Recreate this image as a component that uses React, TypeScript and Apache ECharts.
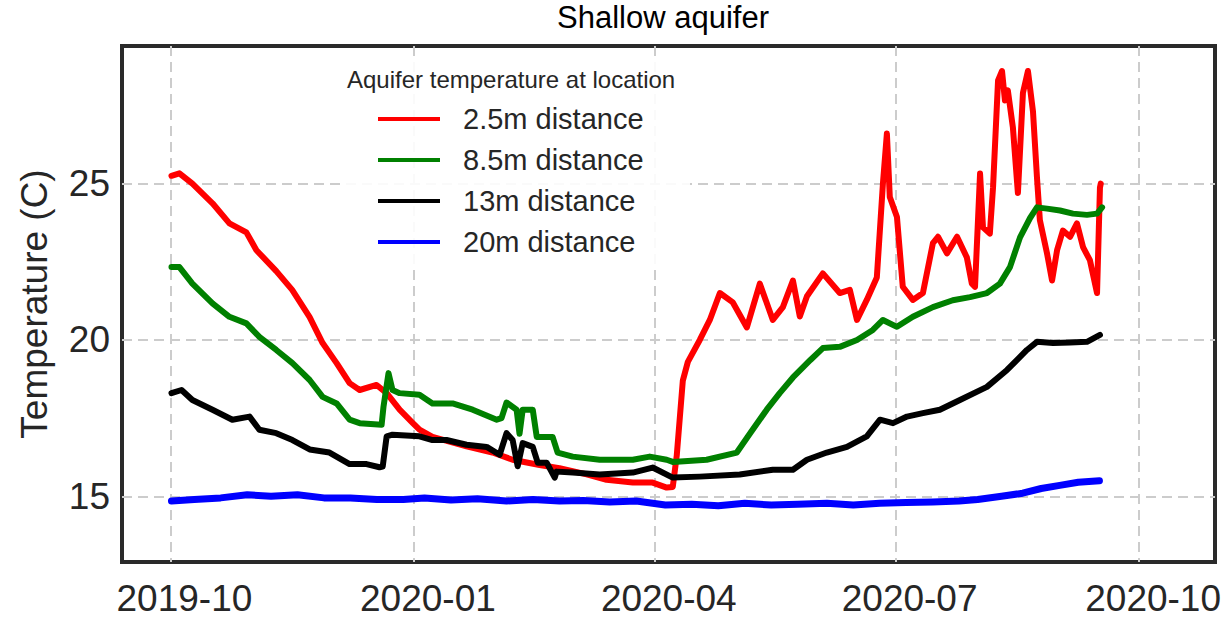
import React, { useEffect, useRef } from "react";
import * as echarts from "echarts";

// Day offsets are counted from START_DATE (2019-10-01)
const START_DATE = "2019-10-01T00:00:00";
const X_MIN_DATE = "2019-09-12T17:00:00";
const X_MAX_DATE = "2020-10-29T16:00:00";
const Y_MIN = 12.9;
const Y_MAX = 29.4;

const xTickDates = ["2019-10-01", "2020-01-01", "2020-04-01", "2020-07-01", "2020-10-01"];
const xTickLabels = ["2019-10", "2020-01", "2020-04", "2020-07", "2020-10"];
const yTicks = [15, 20, 25];

const seriesNames = ["2.5m distance", "8.5m distance", "13m distance", "20m distance"];
const seriesColors = ["#ff0000", "#008000", "#000000", "#0000ff"];

// [day offset, temperature °C]
const red25: [number, number][] = [
  [0.4, 25.25], [3.4, 25.33], [8.3, 25.0], [15.9, 24.37], [22.3, 23.73], [28.7, 23.44], [32.5, 22.87],
  [40, 22.2], [46, 21.6], [52.6, 20.73], [57.5, 19.9], [62.8, 19.26], [67.7, 18.62], [71.5, 18.4],
  [77.9, 18.56], [81.7, 18.3], [86.6, 17.77], [91.5, 17.35], [94.1, 17.13], [99, 16.9], [111.9, 16.6],
  [121.7, 16.4], [129.3, 16.17], [139.5, 16.0], [147, 15.9], [157.3, 15.7], [164.8, 15.53], [174.7, 15.44],
  [182.2, 15.44], [187.5, 15.28], [189.8, 15.3], [191.3, 16.3], [193.6, 18.7], [195.5, 19.3], [200, 20.0],
  [203.8, 20.64], [207.6, 21.5], [212.5, 21.2], [217.8, 20.4], [222.7, 21.8], [227.6, 20.64], [231.4, 21.05],
  [235.2, 21.9], [237.8, 20.75], [240.5, 21.4], [246.5, 22.13], [252.9, 21.5], [256.7, 21.6], [259.4, 20.64],
  [263.1, 21.28], [266.9, 22.0], [269.2, 25.0], [270.7, 26.6], [271.8, 24.57], [274.5, 23.93], [276.7, 21.7],
  [280.5, 21.28], [284.3, 21.5], [288.1, 23.1], [290, 23.3], [293.4, 22.77], [297.2, 23.3], [300.9, 22.64],
  [302.8, 21.8], [304, 21.7], [305.9, 25.32], [307, 23.6], [309.6, 23.4], [310.8, 24.87], [312.7, 28.3],
  [314.2, 28.6], [315.3, 27.66], [316.4, 27.98], [318.3, 26.8], [320.2, 24.7], [322.1, 27.9], [324, 28.6],
  [325.9, 27.3], [327.4, 25.2], [328.5, 23.83], [331.2, 22.77], [333.1, 21.9], [335, 22.87], [337.2, 23.5],
  [339.9, 23.3], [342.5, 23.73], [344.8, 22.97], [347.4, 22.55], [350.1, 21.5], [351.2, 24.87], [351.5, 25.0],
];

const green85: [number, number][] = [
  [0.4, 22.33], [3.4, 22.33], [8.3, 21.8], [15.9, 21.17], [22.3, 20.74], [28.7, 20.53], [33.6, 20.1],
  [40, 19.68], [46.1, 19.26], [52.6, 18.72], [57.5, 18.18], [62.8, 17.97], [67.7, 17.45], [71.5, 17.34],
  [79.8, 17.29], [80.5, 17.86], [82.4, 18.94], [83.9, 18.4], [86.6, 18.3], [94.1, 18.25], [99, 17.97],
  [106.6, 17.97], [114.2, 17.77], [123.3, 17.45], [125.1, 17.5], [127, 18.0], [130.8, 17.77], [131.9, 17.0],
  [133.1, 17.77], [136.9, 17.77], [138.4, 16.9], [144.4, 16.9], [146.3, 16.4], [152, 16.27], [162.2, 16.17],
  [174.7, 16.17], [181.1, 16.27], [187.5, 16.17], [189.8, 16.1], [202.6, 16.17], [214, 16.4], [218.9, 17.0],
  [225.3, 17.77], [230.2, 18.3], [235.2, 18.8], [241.8, 19.36], [246.5, 19.74], [252.9, 19.78], [259.4, 20.0],
  [265.4, 20.32], [269.2, 20.64], [274.5, 20.42], [280.5, 20.74], [288.1, 21.05], [295.6, 21.27], [302.1, 21.37],
  [308.5, 21.5], [313.4, 21.8], [317.2, 22.33], [321, 23.28], [324.8, 23.9], [327.4, 24.24], [331.2, 24.2],
  [336.1, 24.14], [341, 24.04], [346.3, 24.0], [350.1, 24.04], [352, 24.24],
];

const black13: [number, number][] = [
  [0.4, 18.3], [4.2, 18.4], [8.3, 18.08], [15.9, 17.77], [23.4, 17.45], [29.9, 17.55], [33.6, 17.13],
  [40, 17.02], [46.1, 16.8], [52.6, 16.5], [60.1, 16.4], [67.7, 16.03], [74.1, 16.03], [79, 15.93],
  [80.2, 15.95], [81.7, 16.92], [83.9, 16.97], [94.1, 16.92], [99, 16.8], [104.3, 16.8], [111.9, 16.65],
  [119.5, 16.58], [124.4, 16.33], [127, 17.02], [129.3, 16.8], [131.2, 15.96], [133.1, 16.7], [136.9, 16.58],
  [138.8, 16.07], [142.2, 16.07], [145.2, 15.6], [145.9, 15.79], [152, 15.76], [162.2, 15.7], [174.7, 15.76],
  [182.2, 15.92], [189.8, 15.6], [200, 15.63], [215.1, 15.7], [227.6, 15.85], [235.2, 15.85], [240.5, 16.17],
  [248, 16.4], [255.6, 16.58], [263.1, 16.92], [268.1, 17.45], [273, 17.34], [278.3, 17.55], [284.3, 17.66],
  [290.7, 17.77], [298.3, 18.08], [308.5, 18.5], [316.1, 19.04], [323.6, 19.68], [327.4, 19.94], [333.5, 19.9],
  [339.9, 19.92], [346.3, 19.94], [351.2, 20.16],
];

const blue20: [number, number][] = [
  [0.4, 14.85], [9, 14.9], [19, 14.95], [29, 15.05], [38, 15.0], [48, 15.05], [58, 14.95], [68, 14.95],
  [78, 14.9], [88, 14.9], [96, 14.95], [106, 14.88], [116, 14.92], [127, 14.85], [137, 14.9], [147, 14.85],
  [156, 14.87], [166, 14.82], [176, 14.85], [187, 14.72], [197, 14.75], [207, 14.7], [217, 14.78],
  [227, 14.72], [237, 14.75], [248, 14.78], [258, 14.72], [268, 14.78], [278, 14.8], [288, 14.82],
  [298, 14.85], [305, 14.9], [314, 15.0], [322, 15.1], [329, 15.25], [336, 15.35], [343, 15.45], [351, 15.5],
];

const allData = [red25, green85, black13, blue20];
const lineWidths = [6, 6, 6, 7];

const DAY_MS = 86400000;
const FONT = "'Liberation Sans', Arial, Helvetica, sans-serif";
const TEXT = "#262626";

export default function App() {
  const ref = useRef<HTMLDivElement>(null);
  useEffect(() => {
    document.body.style.margin = "0";
    const chart = echarts.init(ref.current!, null, { renderer: "svg" });
    const t0 = new Date(START_DATE).getTime();
    const tickTimes = xTickDates.map((d) => new Date(d + "T00:00:00").getTime());
    const option = {
      animation: false,
      textStyle: { fontFamily: FONT },
      title: [
        {
          text: "Shallow aquifer",
          left: 557,
          top: 2,
          padding: 0,
          textStyle: { fontFamily: FONT, fontSize: 31, fontWeight: "normal", color: "#000" },
        },
        {
          text: "Aquifer temperature at location",
          left: 347,
          top: 67,
          padding: 0,
          z: 10,
          textStyle: { fontFamily: FONT, fontSize: 24, fontWeight: "normal", color: TEXT },
        },
      ],
      graphic: [
        {
          type: "rect",
          shape: { x: 340, y: 56, width: 350, height: 211 },
          style: { fill: "rgba(255,255,255,0.9)" },
          z: 1,
          silent: true,
        },
      ],
      legend: {
        orient: "vertical",
        left: 378,
        top: 104,
        padding: 0,
        itemWidth: 62,
        itemHeight: 4,
        itemGap: 11,
        icon: "rect",
        data: seriesNames,
        textStyle: { fontFamily: FONT, fontSize: 29, color: TEXT, lineHeight: 30, padding: [0, 0, 0, 18] },
      },
      grid: {
        left: 122,
        top: 46,
        right: 12,
        bottom: 58,
        show: true,
        borderColor: "#2a2a2a",
        borderWidth: 4,
        backgroundColor: "#fff",
      },
      xAxis: {
        type: "value",
        min: new Date(X_MIN_DATE).getTime(),
        max: new Date(X_MAX_DATE).getTime(),
        axisLine: { show: false },
        axisTick: { show: false, customValues: tickTimes },
        axisLabel: {
          customValues: tickTimes,
          margin: 18,
          fontSize: 37,
          color: TEXT,
          fontFamily: FONT,
          padding: [0, 0, 0, 28],
          formatter: (v: number) => {
            const i = tickTimes.indexOf(v);
            return i >= 0 ? xTickLabels[i] : "";
          },
        },
        splitLine: { show: true, lineStyle: { color: "#cccccc", width: 2, type: [10, 6] } },
      },
      yAxis: {
        type: "value",
        min: Y_MIN,
        max: Y_MAX,
        name: "Temperature (C)",
        nameLocation: "middle",
        nameGap: 69,
        nameTextStyle: { fontSize: 37, color: TEXT, fontFamily: FONT },
        axisLine: { show: false },
        axisTick: { show: false, customValues: yTicks },
        axisLabel: { customValues: yTicks, margin: 12, fontSize: 37, color: TEXT, fontFamily: FONT },
        splitLine: { show: true, lineStyle: { color: "#cccccc", width: 2, type: [10, 6] } },
      },
      series: allData.map((d, i) => ({
        name: seriesNames[i],
        type: "line",
        showSymbol: false,
        color: seriesColors[i],
        lineStyle: { width: lineWidths[i], color: seriesColors[i], cap: "round", join: "round" },
        data: d.map(([day, v]) => [t0 + day * DAY_MS, v]),
        z: 2 + i,
      })),
    };
    chart.setOption(option as any);
    return () => chart.dispose();
  }, []);
  return <div ref={ref} style={{ width: 1227, height: 620 }} />;
}
